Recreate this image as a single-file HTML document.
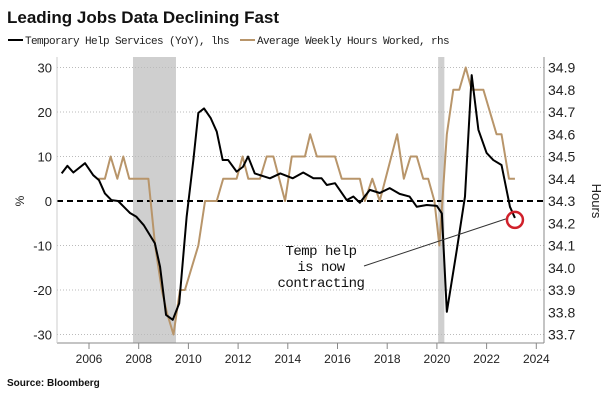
<!DOCTYPE html>
<html><head><meta charset="utf-8">
<style>
body{margin:0;background:#fff;width:608px;height:401px;overflow:hidden;font-family:"Liberation Sans",sans-serif}
svg{display:block}
</style></head>
<body>
<svg id="chart" width="608" height="401" xmlns="http://www.w3.org/2000/svg">
<text x="7" y="23" font-family="Liberation Sans" font-weight="bold" font-size="17" fill="#111">Leading Jobs Data Declining Fast</text>
<g font-family="Liberation Mono" font-size="11" letter-spacing="-0.6" fill="#222">
<line x1="8" y1="40" x2="23" y2="40" stroke="#000" stroke-width="2"/>
<text x="25" y="44">Temporary Help Services (YoY), lhs</text>
<line x1="240" y1="40" x2="255" y2="40" stroke="#b8956a" stroke-width="2"/>
<text x="257" y="44">Average Weekly Hours Worked, rhs</text>
</g>
<g id="plot"></g>
<text x="7" y="386" font-family="Liberation Sans" font-weight="bold" font-size="10" fill="#111">Source: Bloomberg</text>
</svg>
<script>
const yearTicks=[2006,2008,2010,2012,2014,2016,2018,2020,2022,2024];
const leftTicks=[30,20,10,0,-10,-20,-30];
const rightTicks=[34.9,34.8,34.7,34.6,34.5,34.4,34.3,34.2,34.1,34.0,33.9,33.8,33.7];
const recessions=[[2007.77,2009.5],[2020.05,2020.3]];
const tempYears=[2004.9,2005.13,2005.37,2005.84,2006.17,2006.4,2006.64,2006.9,2007.17,2007.65,2007.9,2008.2,2008.65,2008.86,2009.1,2009.37,2009.63,2009.93,2010.2,2010.4,2010.63,2010.9,2011.14,2011.38,2011.6,2011.94,2012.2,2012.4,2012.67,2013.28,2013.7,2014.2,2014.62,2015.03,2015.36,2015.57,2015.9,2016.37,2016.64,2016.9,2017.3,2017.7,2018.1,2018.5,2018.9,2019.19,2019.59,2020.0,2020.2,2020.4,2020.8,2021.13,2021.4,2021.67,2022.0,2022.27,2022.6,2022.94,2023.14];
const tempValues=[6.2,7.9,6.4,8.5,5.8,4.7,1.7,0.2,0,-2.7,-3.5,-5.4,-9.5,-14.8,-25.6,-26.7,-23,-3.5,9.2,19.8,20.8,18.6,15.6,9.2,9.2,6.6,7.7,10,6.2,5.1,6.2,5.1,6.4,5.1,5.1,3.6,4,0.2,1,-0.4,2.5,1.8,2.9,1.6,1,-1.3,-0.9,-1.1,-2.8,-24.9,-11,1,28.3,16,10.8,9.2,8.1,-1.3,-3.8];
const hoursYears=[2006.37,2006.64,2006.87,2007.14,2007.38,2007.62,2008.39,2008.66,2008.93,2009.13,2009.4,2009.66,2009.86,2010.4,2010.67,2011.14,2011.4,2011.94,2012.18,2012.41,2012.88,2013.15,2013.42,2013.89,2014.16,2014.69,2014.9,2015.17,2015.9,2016.17,2016.9,2017.1,2017.4,2017.7,2018.4,2018.67,2018.94,2019.19,2019.45,2019.65,2019.9,2020.1,2020.4,2020.66,2020.9,2021.16,2021.4,2021.87,2022.4,2022.6,2022.9,2023.14];
const hoursValues=[34.4,34.4,34.5,34.4,34.5,34.4,34.4,34.1,33.9,33.8,33.7,33.9,33.9,34.1,34.3,34.3,34.4,34.4,34.5,34.4,34.4,34.5,34.5,34.3,34.5,34.5,34.6,34.5,34.5,34.4,34.4,34.3,34.4,34.3,34.6,34.4,34.5,34.5,34.4,34.4,34.3,34.1,34.6,34.8,34.8,34.9,34.8,34.8,34.6,34.6,34.4,34.4];

const NS="http://www.w3.org/2000/svg";
const X0=57,X1=544,Y0=57,Y1=343;
const x=yr=>89+(yr-2006)*24.85;
const yL=v=>201-v*4.45;
const yR=h=>201-(h-34.3)/0.02*4.45;
const plot=document.getElementById('plot');
function mk(tag,attrs,parent){const e=document.createElementNS(NS,tag);for(const k in attrs)e.setAttribute(k,attrs[k]);(parent||plot).appendChild(e);return e;}

recessions.forEach(r=>{
  const e=mk('rect',{x:x(r[0]),y:Y0,width:x(r[1])-x(r[0]),height:Y1-Y0,fill:'#cfcfcf'});
  
  
});
leftTicks.forEach(v=>{
  if(v!==0){const g=mk('line',{x1:X0,x2:X1,y1:yL(v),y2:yL(v),stroke:'#bbb','stroke-dasharray':'1,2'});
  
  }
  const t=mk('text',{x:52,y:yL(v)+5,'text-anchor':'end','font-size':13,fill:'#222'});
  t.textContent=v;
  
  
});
rightTicks.forEach(h=>{
  const t=mk('text',{x:548,y:yR(h)+5,'font-size':14,fill:'#222'});
  t.textContent=h.toFixed(1);
  
  
});
const zero=mk('line',{x1:X0,x2:X1,y1:yL(0),y2:yL(0),stroke:'#000','stroke-width':2,'stroke-dasharray':'6,4'});


const ax=mk('line',{x1:X0,x2:X1,y1:Y1,y2:Y1,stroke:'#888'});


const ra=mk('line',{x1:X1,x2:X1,y1:Y0,y2:Y1,stroke:'#888'});


const la=mk('line',{x1:X0,x2:X0,y1:Y0,y2:Y1,stroke:'#ccc'});


yearTicks.forEach(yr=>{
  const tk=mk('line',{x1:x(yr),x2:x(yr),y1:Y1,y2:Y1+6,stroke:'#888'});
  
  
  const t=mk('text',{x:x(yr),y:363,'text-anchor':'middle','font-size':12,fill:'#222'});
  t.textContent=yr;
  
  
});
const hp=mk('polyline',{points:hoursYears.map((d,i)=>x(d)+','+yR(hoursValues[i])).join(' '),fill:'none',stroke:'#b8956a','stroke-width':2,'stroke-linejoin':'round'});


const tp=mk('polyline',{points:tempYears.map((d,i)=>x(d)+','+yL(tempValues[i])).join(' '),fill:'none',stroke:'#000','stroke-width':2,'stroke-linejoin':'round'});



const lastX=x(tempYears[tempYears.length-1]),lastY=yL(tempValues[tempValues.length-1]);
const al=mk('line',{x1:364,y1:266,x2:lastX-9,y2:lastY+1,stroke:'#333','stroke-width':1});


const c=mk('circle',{cx:lastX,cy:lastY+2,r:8,fill:'none',stroke:'#d0202a','stroke-width':2.5});


['Temp help','is now','contracting'].forEach((s,i)=>{
  const t=mk('text',{x:321,y:255+i*16,'text-anchor':'middle','font-family':'Liberation Mono','font-size':14,'letter-spacing':'-0.5',fill:'#111'});
  t.textContent=s;
  
  
});
const pct=mk('text',{x:0,y:0,'font-size':12,fill:'#222',transform:'translate(24,201) rotate(-90)','text-anchor':'middle'});
pct.textContent='%';


const hrs=mk('text',{x:0,y:0,'font-size':13,fill:'#222',transform:'translate(592,201) rotate(90)','text-anchor':'middle'});
hrs.textContent='Hours';


</script>
</body></html>
